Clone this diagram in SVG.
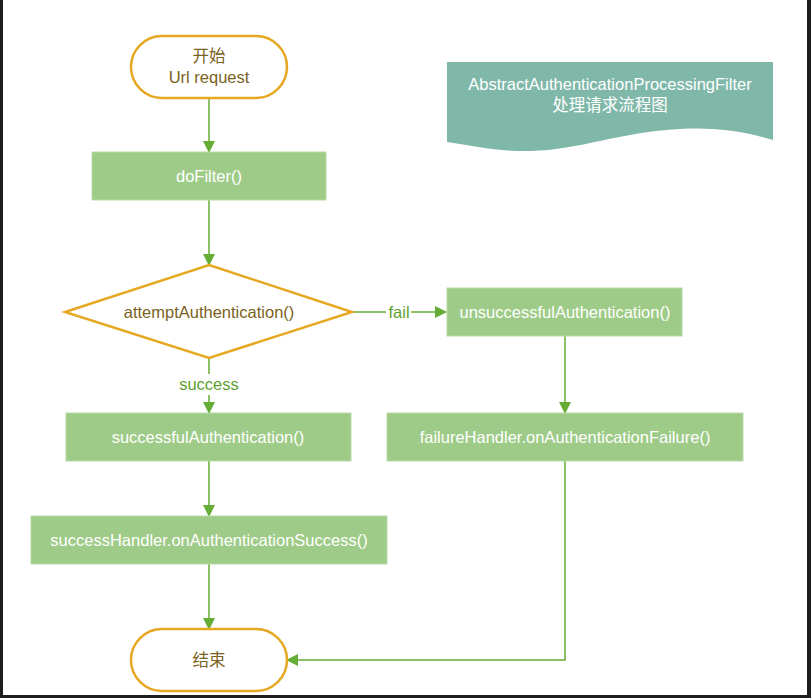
<svg xmlns="http://www.w3.org/2000/svg" width="811" height="698" viewBox="0 0 811 698">
<defs>
<style>
.t{font-family:"Liberation Sans",Arial,"Noto Sans CJK SC",sans-serif;font-size:16.5px;text-anchor:middle;dominant-baseline:central}
.w{fill:#ffffff}
.g{fill:#7a6222}
.lbl{fill:#5e9f32}
.box{fill:#9ecb87;stroke:#b8dba6;stroke-width:1}
.term{fill:#ffffff;stroke:#e6a822;stroke-width:2.5}
.c{stroke:#66ad35;stroke-width:1.5;fill:none}
</style>
<marker id="ah" markerWidth="12" markerHeight="12" refX="11" refY="6" orient="auto" markerUnits="userSpaceOnUse">
<path d="M0,0 L12,6 L0,12 Z" fill="#66ad35"/>
</marker>
</defs>
<rect x="0" y="0" width="811" height="698" fill="#ffffff"/>
<rect x="0" y="0" width="3" height="698" fill="#1e1e1e"/>
<rect x="807" y="0" width="4" height="698" fill="#1e1e1e"/>
<rect x="0" y="695" width="811" height="3" fill="#1e1e1e"/>

<g id="title">
<path d="M447,62 L773,62 L773,140 C745,132 720,127 680,129 C620,132 580,150 530,151 C500,152 475,146 447,142 Z" fill="#7fb8a9"/>
<text class="t w" x="610" y="84">AbstractAuthenticationProcessingFilter</text>
<text class="t w" x="610" y="105" font-size="17.5">处理请求流程图</text>
</g>

<g id="connectors">
<line class="c" x1="209" y1="98" x2="209" y2="152" marker-end="url(#ah)"/>
<line class="c" x1="209" y1="200" x2="209" y2="265" marker-end="url(#ah)"/>
<line class="c" x1="352" y1="312" x2="386" y2="312"/>
<line class="c" x1="411" y1="312" x2="446" y2="312" marker-end="url(#ah)"/>
<text class="t lbl" x="399" y="312">fail</text>
<line class="c" x1="209" y1="358" x2="209" y2="374"/>
<text class="t lbl" x="209" y="384">success</text>
<line class="c" x1="209" y1="395" x2="209" y2="413" marker-end="url(#ah)"/>
<line class="c" x1="209" y1="461" x2="209" y2="516" marker-end="url(#ah)"/>
<line class="c" x1="209" y1="564" x2="209" y2="629" marker-end="url(#ah)"/>
<line class="c" x1="565" y1="336" x2="565" y2="413" marker-end="url(#ah)"/>
<polyline class="c" points="565,461 565,660 287,660" marker-end="url(#ah)"/>
</g>

<g id="start">
<rect class="term" x="131" y="36" width="156" height="62" rx="31"/>
<text class="t g" x="209" y="56" font-size="18">开始</text>
<text class="t g" x="209" y="77">Url request</text>
</g>

<g id="doFilter">
<rect class="box" x="92" y="152" width="234" height="48"/>
<text class="t w" x="209" y="176">doFilter()</text>
</g>

<g id="attempt">
<polygon points="209,265 352,312 209,358 65,312" fill="#ffffff" stroke="#e6a822" stroke-width="2.5"/>
<text class="t g" x="209" y="312">attemptAuthentication()</text>
</g>

<g id="unsuccessful">
<rect class="box" x="447" y="288" width="235" height="48"/>
<text class="t w" x="565" y="312">unsuccessfulAuthentication()</text>
</g>

<g id="failureHandler">
<rect class="box" x="387" y="413" width="356" height="48"/>
<text class="t w" x="565" y="437">failureHandler.onAuthenticationFailure()</text>
</g>

<g id="successful">
<rect class="box" x="66" y="413" width="285" height="48"/>
<text class="t w" x="208" y="437">successfulAuthentication()</text>
</g>

<g id="successHandler">
<rect class="box" x="31" y="516" width="356" height="48"/>
<text class="t w" x="209" y="540">successHandler.onAuthenticationSuccess()</text>
</g>

<g id="end">
<rect class="term" x="131" y="629" width="156" height="62" rx="31"/>
<text class="t g" x="209" y="660" font-size="18">结束</text>
</g>
</svg>
